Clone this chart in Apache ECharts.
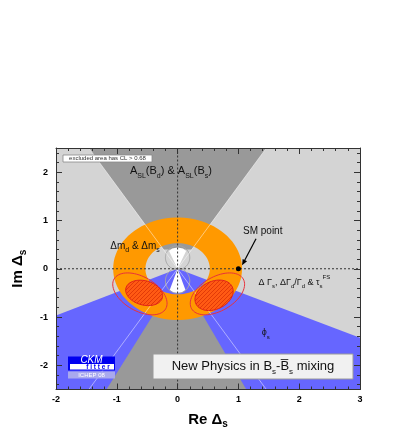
<!DOCTYPE html>
<html>
<head>
<meta charset="utf-8">
<script src="https://cdn.jsdelivr.net/npm/echarts@6/dist/echarts.min.js"></script>
<style>
  html, body { margin: 0; padding: 0; background: #fff; }
  #main { width: 409px; height: 436px; }
</style>
</head>
<body>
<div id="main"></div>
<script>
// axis ranges and ticks
var xRange = [-2, 3];
var yRange = [-2.5, 2.5];
var yTicks = [-2, -1, 0, 1, 2];
var yMinorTicks = [-2.4, -2.2, -1.8, -1.6, -1.4, -1.2, -0.8, -0.6, -0.4, -0.2,
                   0.2, 0.4, 0.6, 0.8, 1.2, 1.4, 1.6, 1.8, 2.2, 2.4];

// excluded regions (data coordinates, Re / Im)
var phiS = [[0, 0], [-2, -0.97], [-2, -2.5], [3, -2.5], [3, -1.43]];
var aslTop = [[-0.23, 0.4], [-1.46, 2.5], [1.46, 2.5], [0.23, 0.4]];
var aslBottom = [[-0.25, -0.65], [-1.17, -2.5], [1.13, -2.5], [0.27, -0.65]];
var dmRing = [0, 0, 0.53, 1.06];          // centre x, centre y, inner r, outer r
var whiteTop = [[0, 0], [-0.14, 0.37], [-0.09, 0.42], [0, 0.44], [0.09, 0.42], [0.14, 0.37]];
var whiteBottom = [[0, 0], [0.13, -0.44], [0.07, -0.49], [0, -0.5], [-0.07, -0.49], [-0.13, -0.44]];
var grayCircles = [[0, 0.23, 0.2, 0.25], [0, -0.25, 0.2, 0.26]];   // cx, cy, rx, ry
var aslLines = [[-1.46, 2.5, 1.46, -2.5], [1.46, 2.5, -1.46, -2.5]];

// fit contours: cx, cy, semi-axes (Re units), tilt in degrees
var redContours = [[-0.62, -0.52, 0.49, 0.28, -30], [0.655, -0.52, 0.49, 0.28, 30]];
var redBlobs = [[-0.55, -0.5, 0.31, 0.2, -15], [0.6, -0.55, 0.33, 0.23, 25]];

var smPoint = [1, 0];
var smArrow = [1.29, 0.62, 1.06, 0.07];

// labels inside the plot
var labelPos = {
  asl: [-0.11, 2.02],
  dm: [-0.7, 0.47],
  sm: [1.4, 0.77],
  dg: [1.92, -0.28],
  phi: [1.45, -1.32]
};

var FONT = '"Liberation Sans", Arial, sans-serif';

var hatch = document.createElement('canvas');
hatch.width = 4; hatch.height = 4;
var hc = hatch.getContext('2d');
hc.fillStyle = '#ff5a14';
hc.fillRect(0, 0, 4, 4);
hc.strokeStyle = '#e23a08';
hc.lineWidth = 1;
hc.beginPath(); hc.moveTo(0, 4); hc.lineTo(4, 0); hc.stroke();

function poly(api, pts, style) {
  return {
    type: 'polygon',
    shape: { points: pts.map(function (p) { return api.coord(p); }) },
    style: style
  };
}

function tiltedEllipse(api, e) {
  var c = api.coord([e[0], e[1]]);
  var ux = api.size([1, 0])[0];
  var a = e[2] * ux, b = e[3] * ux, th = e[4] * Math.PI / 180;
  var pts = [];
  for (var i = 0; i < 72; i++) {
    var t = 2 * Math.PI * i / 72;
    var x = a * Math.cos(t), y = b * Math.sin(t);
    pts.push([c[0] + x * Math.cos(th) - y * Math.sin(th),
              c[1] - (x * Math.sin(th) + y * Math.cos(th))]);
  }
  return pts;
}

function dataEllipse(api, e) {
  var pts = [];
  for (var i = 0; i < 72; i++) {
    var t = 2 * Math.PI * i / 72;
    pts.push(api.coord([e[0] + e[2] * Math.cos(t), e[1] + e[3] * Math.sin(t)]));
  }
  return pts;
}

function ringPoints(api, r) {
  var pts = [], i, t;
  for (i = 0; i <= 90; i++) {
    t = 2 * Math.PI * i / 90;
    pts.push(api.coord([r[0] + r[3] * Math.cos(t), r[1] + r[3] * Math.sin(t)]));
  }
  for (i = 90; i >= 0; i--) {
    t = 2 * Math.PI * i / 90;
    pts.push(api.coord([r[0] + r[2] * Math.cos(t), r[1] + r[2] * Math.sin(t)]));
  }
  return pts;
}

function label(api, pos, text, size, rich) {
  var p = api.coord(pos);
  return {
    type: 'text', x: p[0], y: p[1],
    style: {
      text: text, fontSize: size, fontFamily: FONT, fill: '#111',
      align: 'center', verticalAlign: 'middle', lineHeight: size + 6, rich: rich
    }
  };
}

var subRich = function (size) {
  return {
    sub: { fontSize: size, fontFamily: FONT, fill: '#111', verticalAlign: 'bottom', lineHeight: size + 1 },
    sup: { fontSize: size, fontFamily: FONT, fill: '#111', verticalAlign: 'top', lineHeight: size + 1 }
  };
};

function renderRegions(params, api) {
  var ch = [];
  ch.push(poly(api, [[xRange[0], yRange[0]], [xRange[1], yRange[0]], [xRange[1], yRange[1]], [xRange[0], yRange[1]]],
    { fill: '#d4d4d4' }));
  ch.push(poly(api, phiS, { fill: '#6666ff' }));
  ch.push(poly(api, aslTop, { fill: '#999999' }));
  ch.push(poly(api, aslBottom, { fill: '#999999' }));
  ch.push({ type: 'polygon', shape: { points: ringPoints(api, dmRing) }, style: { fill: '#ff9900' } });
  ch.push(poly(api, whiteTop, { fill: '#ffffff' }));
  ch.push(poly(api, whiteBottom, { fill: '#ffffff' }));
  grayCircles.forEach(function (g) {
    ch.push({ type: 'polygon', shape: { points: dataEllipse(api, g) },
      style: { fill: null, stroke: '#a6a6a6', lineWidth: 1 } });
  });
  aslLines.forEach(function (l) {
    var a = api.coord([l[0], l[1]]), b = api.coord([l[2], l[3]]);
    ch.push({ type: 'line', shape: { x1: a[0], y1: a[1], x2: b[0], y2: b[1] },
      style: { stroke: 'rgba(255,255,255,0.6)', lineWidth: 0.8 } });
  });
  redContours.forEach(function (e) {
    ch.push({ type: 'polygon', shape: { points: tiltedEllipse(api, e) },
      style: { fill: null, stroke: '#e8323c', lineWidth: 1 } });
  });
  redBlobs.forEach(function (e) {
    ch.push({ type: 'polygon', shape: { points: tiltedEllipse(api, e) },
      style: { fill: { image: hatch, repeat: 'repeat' }, stroke: '#e0201a', lineWidth: 1 } });
  });
  // dashed zero lines
  var h0 = api.coord([xRange[0], 0]), h1 = api.coord([xRange[1], 0]);
  var v0 = api.coord([0, yRange[0]]), v1 = api.coord([0, yRange[1]]);
  ch.push({ type: 'line', shape: { x1: h0[0], y1: h0[1], x2: h1[0], y2: h1[1] },
    style: { stroke: '#333', lineWidth: 1, lineDash: [2, 2] } });
  ch.push({ type: 'line', shape: { x1: v0[0], y1: v0[1], x2: v1[0], y2: v1[1] },
    style: { stroke: '#333', lineWidth: 1, lineDash: [2, 2] } });
  // SM point and arrow
  var sp = api.coord(smPoint);
  ch.push({ type: 'circle', shape: { cx: sp[0], cy: sp[1], r: 2.5 }, style: { fill: '#000' } });
  var at = api.coord([smArrow[0], smArrow[1]]), ah = api.coord([smArrow[2], smArrow[3]]);
  var dx = ah[0] - at[0], dy = ah[1] - at[1], len = Math.sqrt(dx * dx + dy * dy);
  var ux = dx / len, uy = dy / len;
  ch.push({ type: 'line', shape: { x1: at[0], y1: at[1], x2: ah[0] - ux * 4, y2: ah[1] - uy * 4 },
    style: { stroke: '#000', lineWidth: 1.2 } });
  ch.push({ type: 'polygon', shape: { points: [
      [ah[0], ah[1]],
      [ah[0] - ux * 6 - uy * 2.5, ah[1] - uy * 6 + ux * 2.5],
      [ah[0] - ux * 6 + uy * 2.5, ah[1] - uy * 6 - ux * 2.5]] },
    style: { fill: '#000' } });
  // labels
  ch.push(label(api, labelPos.asl, 'A{sub|SL}(B{sub|d}) & A{sub|SL}(B{sub|s})', 11, subRich(7)));
  ch.push(label(api, labelPos.dm, '\u0394m{sub|d} & \u0394m{sub|s}', 10, subRich(7)));
  ch.push(label(api, labelPos.sm, 'SM point', 10, subRich(7)));
  ch.push(label(api, labelPos.dg, '\u0394 \u0393{sub|s}, \u0394\u0393{sub|d}/\u0393{sub|d} & \u03c4{sub|s}{sup|FS}', 9, subRich(6)));
  ch.push(label(api, labelPos.phi, '\u03d5{sub|s}', 9, subRich(6)));
  return { type: 'group', children: ch };
}

var tickLine = { color: '#333', width: 1 };
function xAx(pos, labels) {
  return {
    type: 'value', position: pos, min: xRange[0], max: xRange[1], interval: 1, z: 10,
    axisLine: { show: true, onZero: false, lineStyle: tickLine },
    axisTick: { show: true, inside: true, length: 6, lineStyle: tickLine },
    minorTick: { show: true, splitNumber: 5, length: 3, lineStyle: tickLine },
    splitLine: { show: false },
    axisLabel: { show: labels, fontSize: 9, fontWeight: 'bold', color: '#000', fontFamily: FONT, margin: 6 },
    name: labels ? 'Re \u0394{s|s}' : '',
    nameLocation: 'middle', nameGap: 16,
    nameTextStyle: { fontSize: 15, fontWeight: 'bold', color: '#000', fontFamily: FONT, lineHeight: 20,
      rich: { s: { fontSize: 10, fontWeight: 'bold', color: '#000', fontFamily: FONT, verticalAlign: 'bottom', lineHeight: 11 } } }
  };
}
function yAx(pos, values, len, labels) {
  return {
    type: 'value', position: pos, min: yRange[0], max: yRange[1], z: 10,
    axisLine: { show: len > 4, onZero: false, lineStyle: tickLine },
    axisTick: { show: true, inside: true, length: len, customValues: values, lineStyle: tickLine },
    splitLine: { show: false },
    axisLabel: { show: labels, customValues: values, fontSize: 9, fontWeight: 'bold', color: '#000', fontFamily: FONT, margin: 8 },
    name: labels ? 'Im \u0394{s|s}' : '',
    nameLocation: 'middle', nameGap: 28,
    nameTextStyle: { fontSize: 15, fontWeight: 'bold', color: '#000', fontFamily: FONT, lineHeight: 20,
      rich: { s: { fontSize: 10, fontWeight: 'bold', color: '#000', fontFamily: FONT, verticalAlign: 'bottom', lineHeight: 11 } } }
  };
}

var chart = echarts.init(document.getElementById('main'));
chart.setOption({
  animation: false,
  backgroundColor: '#fff',
  grid: { left: 53, right: 49, top: 148, bottom: 46.5, containLabel: false },
  xAxis: [xAx('bottom', true), xAx('top', false)],
  yAxis: [
    yAx('left', yTicks, 6, true),
    yAx('left', yMinorTicks, 3, false),
    yAx('right', yTicks, 6, false),
    yAx('right', yMinorTicks, 3, false)
  ],
  series: [{
    type: 'custom',
    coordinateSystem: 'cartesian2d',
    xAxisIndex: 0, yAxisIndex: 0,
    clip: true, silent: true, z: 1,
    renderItem: renderRegions,
    data: [[0, 0]]
  }],
  graphic: [
    { type: 'rect', z: 100, shape: { x: 63, y: 155, width: 89, height: 7 },
      style: { fill: '#fff', stroke: '#888', lineWidth: 0.8 } },
    { type: 'text', z: 101, x: 107.5, y: 158.7,
      style: { text: 'excluded area has CL > 0.68', fontSize: 6, fontFamily: FONT, fill: '#333', align: 'center', verticalAlign: 'middle' } },
    { type: 'rect', z: 100, shape: { x: 153, y: 354, width: 200, height: 25 },
      style: { fill: '#f1f1f1', stroke: '#9a9a9a', lineWidth: 1 } },
    { type: 'text', z: 101, x: 253, y: 366.5,
      style: { text: 'New Physics in B{sub|s}-B\u0305{sub|s} mixing', fontSize: 13, fontFamily: FONT, fill: '#111',
        align: 'center', verticalAlign: 'middle', lineHeight: 18,
        rich: { sub: { fontSize: 8, fontFamily: FONT, fill: '#111', verticalAlign: 'bottom', lineHeight: 9 } } } },
    { type: 'rect', z: 100, shape: { x: 68, y: 356.5, width: 47, height: 14 }, style: { fill: '#0000f0' } },
    { type: 'rect', z: 100, shape: { x: 70, y: 364, width: 44, height: 5.5 }, style: { fill: '#fff' } },
    { type: 'text', z: 101, x: 91.5, y: 360.3,
      style: { text: 'CKM', fontSize: 10, fontStyle: 'italic', fontFamily: FONT, fill: '#fff', align: 'center', verticalAlign: 'middle' } },
    { type: 'text', z: 101, x: 98, y: 367,
      style: { text: 'f i t t e r', fontSize: 6.5, fontWeight: 'bold', fontFamily: FONT, fill: '#0000f0', align: 'center', verticalAlign: 'middle' } },
    { type: 'rect', z: 100, shape: { x: 68, y: 371.5, width: 47, height: 7 }, style: { fill: '#a9a9ee' } },
    { type: 'text', z: 101, x: 91.5, y: 375.2,
      style: { text: 'ICHEP 08', fontSize: 6, fontFamily: FONT, fill: '#fff', align: 'center', verticalAlign: 'middle' } }
  ]
});
</script>
</body>
</html>
